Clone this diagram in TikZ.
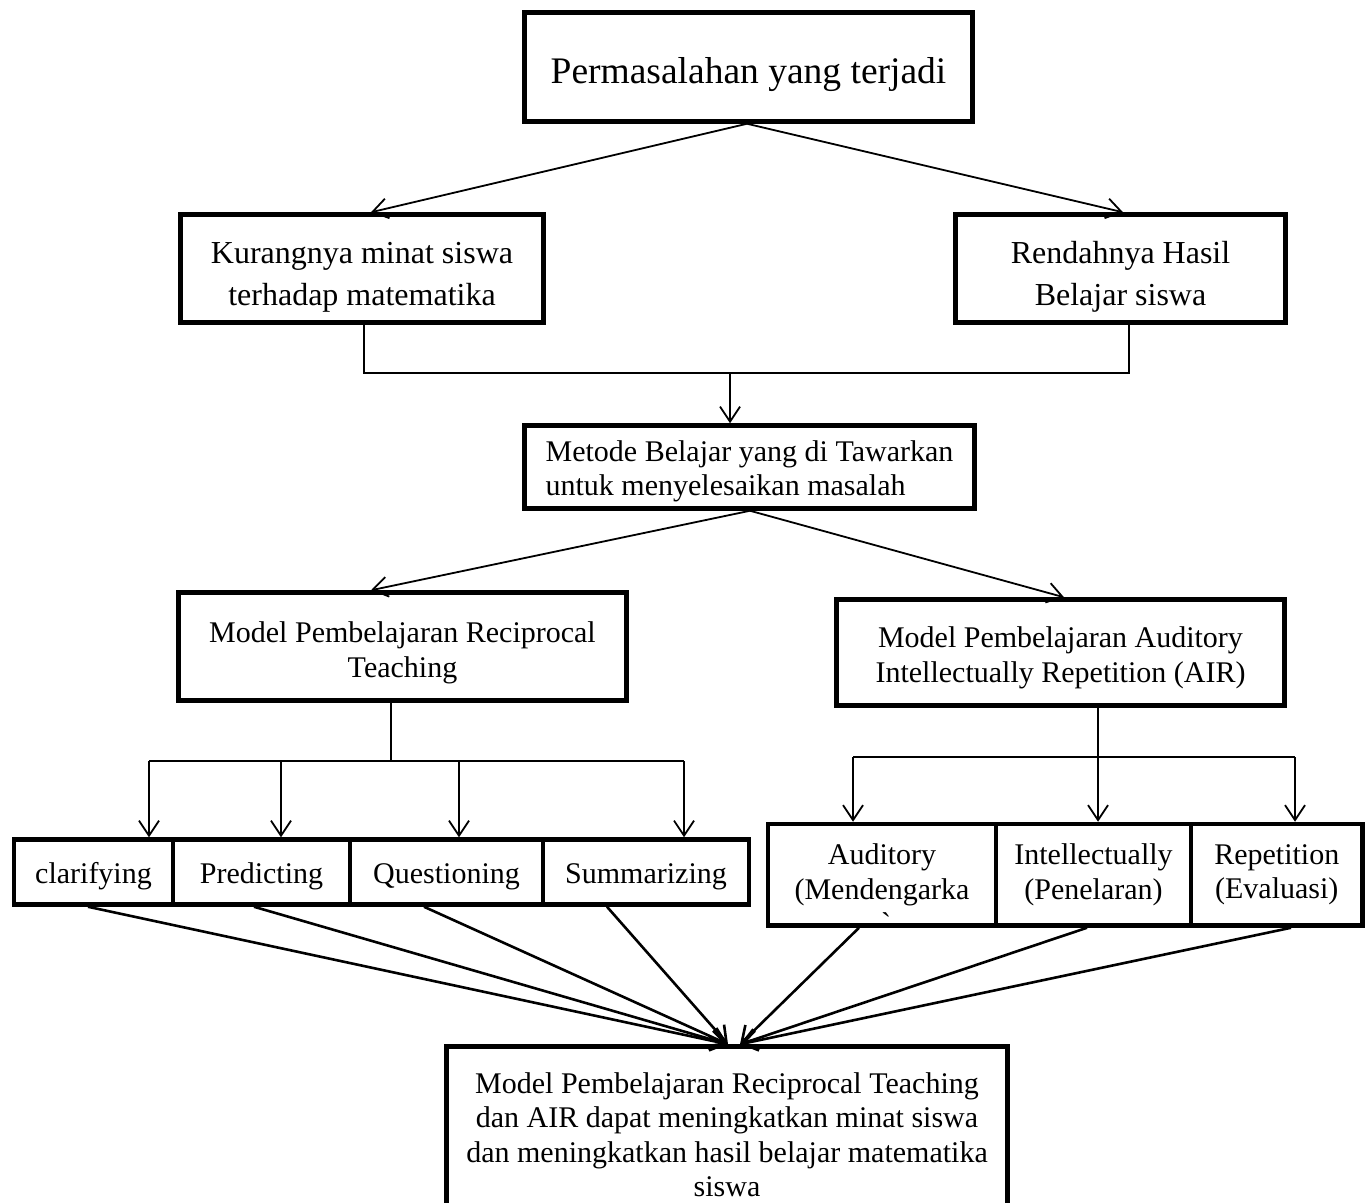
\documentclass[tikz,border=0pt]{standalone}
\usepackage{fontspec}
\setmainfont{Liberation Serif}
\usetikzlibrary{arrows.meta,calc}
\newcommand{\tstrut}[1]{\rule{0pt}{#1}}
\tikzset{
  box/.style={draw, rectangle, line width=4.5pt, inner sep=0pt, align=center,
    font=\fontsize{30}{34.5}\selectfont},
  bigbox/.style={box, font=\fontsize{32}{42}\selectfont},
  topbox/.style={box, font=\fontsize{37.5}{43}\selectfont},
  conn/.style={line width=1.6pt},
  arr/.style={line width=1.8pt, -{Straight Barb[length=15pt,width=20pt]}},
  fan/.style={line width=2.6pt, -{Straight Barb[length=15pt,width=20pt]}},
}
\begin{document}
\begin{tikzpicture}[x=1pt,y=-1pt]
\path[use as bounding box] (0,0) rectangle (1367,1202);
\fill[white] (0,0) rectangle (1367,1202);
\clip (0,0) rectangle (1367,1202);

% boxes
\node[topbox, minimum width=448pt, minimum height=109pt] (top) at (748.5,67) {\tstrut{42pt}Permasalahan yang terjadi};
\node[bigbox, minimum width=363pt, minimum height=108pt] (kur) at (362,268.5) {\tstrut{38pt}Kurangnya minat siswa\\terhadap matematika};
\node[bigbox, minimum width=330pt, minimum height=108pt] (ren) at (1120.5,268.5) {\tstrut{38pt}Rendahnya Hasil\\Belajar siswa};
\node[box, align=left, minimum width=450pt, minimum height=83pt] (met) at (749.5,467) {\tstrut{29pt}Metode Belajar yang di Tawarkan\\untuk menyelesaikan masalah};
\node[box, minimum width=448pt, minimum height=108pt] (rec) at (402.5,646.5) {\tstrut{33pt}Model Pembelajaran Reciprocal\\Teaching};
\node[box, minimum width=448pt, minimum height=106pt] (air) at (1060.5,652.5) {\tstrut{31pt}Model Pembelajaran Auditory\\Intellectually Repetition (AIR)};

\node[box, minimum width=159pt, minimum height=65pt, text height=28.5pt, text depth=6.5pt] (cla) at (93.5,872) {clarifying};
\node[box, minimum width=177pt, minimum height=65pt, text height=28.5pt, text depth=6.5pt] (pre) at (261.5,872) {Predicting};
\node[box, minimum width=193pt, minimum height=65pt, text height=28.5pt, text depth=6.5pt] (que) at (446.5,872) {Questioning};
\node[box, minimum width=206pt, minimum height=65pt, text height=28.5pt, text depth=6.5pt] (sum) at (646,872) {Summarizing};

\node[box, minimum width=228pt, minimum height=101.5pt] (aud) at (882,874.75) {Auditory\\(Mendengarka};
\node[box, minimum width=195pt, minimum height=101.5pt] (int) at (1093.5,874.75) {Intellectually\\(Penelaran)};
\node[box, minimum width=171.5pt, minimum height=101.5pt] (rep) at (1276.75,874.75) {Repetition\\(Evaluasi)};
\node[anchor=base, inner sep=0pt, font=\fontsize{30}{34.5}\selectfont] (audtick) at (886,933) {\textasciigrave};

\node[box, minimum width=561pt, minimum height=160pt] (fin) at (727,1126.5) {\tstrut{37pt}Model Pembelajaran Reciprocal Teaching\\dan AIR dapat meningkatkan minat siswa\\dan meningkatkan hasil belajar matematika\\siswa};

% junction coordinates
\coordinate (kb) at (364,373);
\coordinate (rb) at (1129,373);
\coordinate (mb) at (730,373);
\coordinate (rj) at (391,761);
\coordinate (rl) at (149,761);
\coordinate (rr) at (684,761);
\coordinate (al) at (853,757);
\coordinate (ar) at (1295,757);

% connectors
\draw[arr] ([xshift=-1.5pt]top.south) -- ([xshift=9pt]kur.north);
\draw[arr] ([xshift=-1.5pt]top.south) -- ([xshift=2.5pt]ren.north);

\draw[conn] ([xshift=2pt]kur.south) -- (kb) -- (rb) -- ([xshift=8.5pt]ren.south);
\draw[arr] (mb) -- ([xshift=-19.5pt]met.north);

\draw[arr] ([xshift=0.5pt]met.south) -- ([xshift=-31.5pt]rec.north);
\draw[arr] ([xshift=0.5pt]met.south) -- ([xshift=3.5pt]air.north);

\draw[conn] ([xshift=-11.5pt]rec.south) -- (rj);
\draw[conn] (rl) -- (rr);
\draw[arr] (rl) -- ([xshift=55.5pt]cla.north);
\draw[arr] ([xshift=19.5pt]pre.north |- rl) -- ([xshift=19.5pt]pre.north);
\draw[arr] ([xshift=12.5pt]que.north |- rl) -- ([xshift=12.5pt]que.north);
\draw[arr] (rr) -- ([xshift=38pt]sum.north);

\draw[arr] ([xshift=37.5pt]air.south) -- ([xshift=4.5pt]int.north);
\draw[conn] (al) -- (ar);
\draw[arr] (al) -- ([xshift=-29pt]aud.north);
\draw[arr] (ar) -- ([xshift=18.25pt]rep.north);

% fan into final box
\draw[fan] ([xshift=-5.5pt]cla.south) -- ([xshift=1pt]fin.north);
\draw[fan] ([xshift=-7.5pt]pre.south) -- ([xshift=1pt]fin.north);
\draw[fan] ([xshift=-22.5pt]que.south) -- ([xshift=1pt]fin.north);
\draw[fan] ([xshift=-39pt]sum.south) -- ([xshift=1pt]fin.north);
\draw[fan] ([xshift=-23pt]aud.south) -- ([xshift=13pt]fin.north);
\draw[fan] ([xshift=-6.5pt]int.south) -- ([xshift=13pt]fin.north);
\draw[fan] ([xshift=14.25pt]rep.south) -- ([xshift=13pt]fin.north);
\end{tikzpicture}
\end{document}
